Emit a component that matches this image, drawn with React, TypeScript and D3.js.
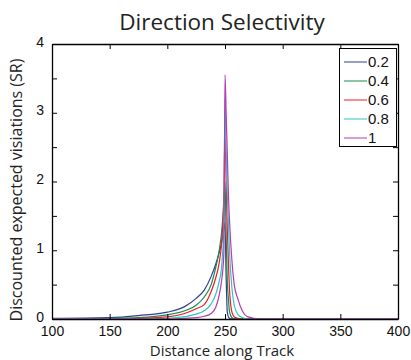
import React, { useEffect, useRef } from 'react'
import * as d3 from 'd3'

// distance along track (sample positions) and one value array per series
const distance = [100, 150, 175, 200, 215, 225, 232, 238, 242, 245, 247, 249, 250, 251, 252, 253, 254, 256, 258, 261, 265, 270, 280, 300, 400]
const v02 = [0.01, 0.02, 0.05, 0.1, 0.18, 0.3, 0.42, 0.62, 0.8, 0.97, 1.1, 1.3, 1.4, 0.6, 0.1, 0.03, 0.01, 0, 0, 0, 0, 0, 0, 0, 0]
const v04 = [0, 0.01, 0.02, 0.06, 0.12, 0.2, 0.32, 0.5, 0.75, 1.0, 1.25, 1.7, 2.0, 1.2, 0.55, 0.28, 0.1, 0.02, 0, 0, 0, 0, 0, 0, 0]
const v06 = [0, 0, 0.01, 0.03, 0.08, 0.15, 0.21, 0.4, 0.6, 0.82, 1.1, 1.8, 2.7, 2.0, 1.3, 0.8, 0.4, 0.1, 0.03, 0.01, 0, 0, 0, 0, 0]
const v08 = [0, 0, 0, 0.01, 0.035, 0.07, 0.12, 0.22, 0.36, 0.55, 0.75, 1.4, 3.2, 2.4, 1.8, 1.38, 0.95, 0.45, 0.2, 0.07, 0.02, 0, 0, 0, 0]
const v10 = [0, 0, 0, 0, 0.01, 0.02, 0.04, 0.08, 0.17, 0.35, 0.55, 0.95, 3.55, 3.0, 2.4, 1.8, 1.4, 0.85, 0.5, 0.3, 0.12, 0.03, 0, 0, 0]

const seriesNames = ['0.2', '0.4', '0.6', '0.8', '1']
const seriesValues = [v02, v04, v06, v08, v10]
const seriesColors = ['#2e3f97', '#168a4c', '#ed1c24', '#2ec4c4', '#b33bb3']

const xTicks = [100, 150, 200, 250, 300, 350, 400]
const yTicks = [0, 0.5, 1, 1.5, 2, 2.5, 3, 3.5, 4]

const W = 411
const H = 360
const margin = { left: 52, right: 13, top: 44, bottom: 41 }

export default function App () {
  const ref = useRef<SVGSVGElement>(null)

  useEffect(() => {
    const svg = d3.select(ref.current)
    svg.selectAll('*').remove()

    const x = d3.scaleLinear().domain([100, 400]).range([margin.left, W - margin.right])
    const y = d3.scaleLinear().domain([0, 4]).range([H - margin.bottom, margin.top])
    const x0 = margin.left, x1 = W - margin.right
    const y0 = H - margin.bottom, y1 = margin.top

    svg.append('clipPath').attr('id', 'plot')
      .append('rect').attr('x', x0).attr('y', y1).attr('width', x1 - x0).attr('height', y0 - y1)

    // lines
    const line = d3.line<number>()
      .x((d, i) => x(distance[i]))
      .y(d => y(d))
      .curve(d3.curveMonotoneX)

    const g = svg.append('g').attr('clip-path', 'url(#plot)')
    seriesValues.forEach((vals, k) => {
      g.append('path')
        .attr('d', line(vals))
        .attr('fill', 'none')
        .attr('stroke', seriesColors[k])
        .attr('stroke-width', 1.2)
    })

    // axes (MATLAB style, ticks inward, box)
    const tickFont = '"Liberation Sans", Arial, sans-serif'
    const bottom = svg.append('g').attr('transform', `translate(0,${y0})`)
      .call(d3.axisBottom(x).tickValues(xTicks).tickSizeInner(-5).tickSizeOuter(0).tickPadding(7))
    const top = svg.append('g').attr('transform', `translate(0,${y1})`)
      .call(d3.axisTop(x).tickValues(xTicks).tickSizeInner(-5).tickSizeOuter(0).tickFormat(() => ''))
    const left = svg.append('g').attr('transform', `translate(${x0},0)`)
      .call(d3.axisLeft(y).tickValues(yTicks).tickSizeInner(-5).tickSizeOuter(0).tickPadding(8)
        .tickFormat(d => (Number(d) % 1 === 0 ? String(d) : '')))
    const right = svg.append('g').attr('transform', `translate(${x1},0)`)
      .call(d3.axisRight(y).tickValues(yTicks).tickSizeInner(-5).tickSizeOuter(0).tickFormat(() => ''))

    ;[bottom, top, left, right].forEach(a => {
      a.selectAll('path').attr('stroke', '#000').attr('stroke-width', 1.3)
      a.selectAll('line').attr('stroke', '#000')
      a.selectAll('text').attr('font-family', tickFont).attr('font-size', 14).attr('fill', '#111')
    })
    left.selectAll('text').attr('dy', '0.15em')

    // legend
    const lg = svg.append('g')
    lg.append('rect').attr('x', 339.5).attr('y', 48.5).attr('width', 57).attr('height', 98)
      .attr('fill', '#fff').attr('stroke', '#000').attr('stroke-width', 1)
    seriesNames.forEach((name, k) => {
      const yy = 62 + k * 19
      lg.append('line').attr('x1', 344).attr('x2', 367).attr('y1', yy).attr('y2', yy)
        .attr('stroke', seriesColors[k]).attr('stroke-width', 1)
      lg.append('text').attr('x', 368).attr('y', yy + 5)
        .attr('font-family', tickFont).attr('font-size', 15).attr('fill', '#111').text(name)
    })

    // titles
    const labelFont = '"Open Sans", "Noto Sans", sans-serif'
    svg.append('text').attr('x', (x0 + x1) / 2 - 3).attr('y', 30)
      .attr('text-anchor', 'middle').attr('font-family', labelFont).attr('font-size', 22.5)
      .attr('fill', '#222').text('Direction Selectivity')
    svg.append('text').attr('x', (x0 + x1) / 2 - 3).attr('y', 356)
      .attr('text-anchor', 'middle').attr('font-family', labelFont).attr('font-size', 15)
      .attr('fill', '#222').text('Distance along Track')
    svg.append('text').attr('transform', 'translate(22,190) rotate(-90)')
      .attr('text-anchor', 'middle').attr('font-family', labelFont).attr('font-size', 16)
      .attr('fill', '#222').text('Discounted expected visiations (SR)')
  }, [])

  return (
    <svg ref={ref} width={W} height={H}
      style={{ position: 'absolute', left: 0, top: 0, background: '#fff' }} />
  )
}
